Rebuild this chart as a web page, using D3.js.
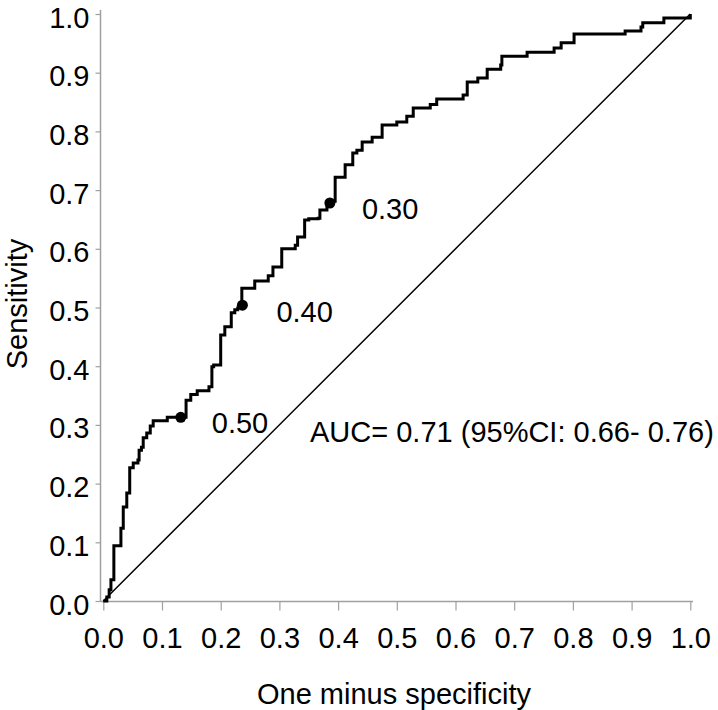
<!DOCTYPE html>
<html>
<head>
<meta charset="utf-8">
<script src="https://cdn.jsdelivr.net/npm/d3@7"></script>
<style>
  html, body { margin: 0; padding: 0; background: #fff; }
  svg { display: block; }
  text { font-family: "Liberation Sans", Arial, sans-serif; fill: #000; }
</style>
</head>
<body>
<div id="chart"></div>
<script>
// ROC step curve: at each fpr, sensitivity rises to tpr
const fpr = [0.000, 0.006, 0.010, 0.013, 0.018, 0.030, 0.034, 0.040, 0.045, 0.051,
             0.059, 0.061, 0.065, 0.068, 0.074, 0.080, 0.085, 0.109, 0.141, 0.149,
             0.160, 0.180, 0.185, 0.188, 0.200, 0.207, 0.218, 0.224, 0.229, 0.236,
             0.258, 0.281, 0.289, 0.304, 0.327, 0.331, 0.343, 0.350, 0.366, 0.369,
             0.381, 0.388, 0.395, 0.412, 0.425, 0.432, 0.441, 0.458, 0.475, 0.500,
             0.517, 0.528, 0.557, 0.568, 0.613, 0.620, 0.638, 0.654, 0.677, 0.679,
             0.722, 0.768, 0.780, 0.802, 0.889, 0.916, 0.919, 0.955, 1.000];
const tpr = [0.000, 0.007, 0.019, 0.036, 0.094, 0.124, 0.160, 0.184, 0.227, 0.235,
             0.240, 0.257, 0.262, 0.278, 0.286, 0.298, 0.307, 0.313, 0.342, 0.352,
             0.358, 0.365, 0.399, 0.402, 0.453, 0.467, 0.491, 0.496, 0.499, 0.533,
             0.545, 0.554, 0.569, 0.600, 0.606, 0.620, 0.649, 0.651, 0.652, 0.666,
             0.673, 0.681, 0.722, 0.743, 0.763, 0.768, 0.782, 0.790, 0.811, 0.816,
             0.826, 0.840, 0.846, 0.855, 0.862, 0.884, 0.891, 0.906, 0.913, 0.928,
             0.935, 0.942, 0.951, 0.966, 0.971, 0.978, 0.985, 0.993, 1.000];

// Highlighted cut-off points
const cutLabels = ["0.50", "0.40", "0.30"];
const cutFpr = [0.132, 0.237, 0.386];
const cutTpr = [0.313, 0.504, 0.678];

const xTicks = [0.0, 0.1, 0.2, 0.3, 0.4, 0.5, 0.6, 0.7, 0.8, 0.9, 1.0];
const yTicks = [0.0, 0.1, 0.2, 0.3, 0.4, 0.5, 0.6, 0.7, 0.8, 0.9, 1.0];

const xTitle = "One minus specificity";
const yTitle = "Sensitivity";
const aucText = "AUC= 0.71 (95%CI: 0.66- 0.76)";

const W = 718, H = 710;
const FS = 29;
const axisColor = "#a0a0a0";

const svg = d3.select("#chart").append("svg")
  .attr("width", W).attr("height", H);

const x = d3.scaleLinear().domain([0, 1]).range([103.3, 690.3]);
const y = d3.scaleLinear().domain([0, 1]).range([601, 14]);

// axis lines
svg.append("line").attr("x1", 100.5).attr("x2", 100.5).attr("y1", 10).attr("y2", 601.5)
  .attr("stroke", axisColor).attr("stroke-width", 1.5);
svg.append("line").attr("x1", 100.5).attr("x2", 693).attr("y1", 601.5).attr("y2", 601.5)
  .attr("stroke", axisColor).attr("stroke-width", 1.5);

// y axis
const gy = svg.append("g").attr("transform", "translate(100.5,0)")
  .call(d3.axisLeft(y).tickValues(yTicks).tickFormat(d3.format(".1f"))
    .tickSize(5).tickSizeOuter(0).tickPadding(6));
gy.select(".domain").remove();
gy.selectAll(".tick line").attr("stroke", axisColor).attr("stroke-width", 1.2);
gy.selectAll(".tick text").attr("font-size", FS).attr("font-family", null)
  .attr("dy", "0.45em").attr("fill", "#000");

// x axis
const gx = svg.append("g").attr("transform", "translate(0,601.5)")
  .call(d3.axisBottom(x).tickValues(xTicks).tickFormat(d3.format(".1f"))
    .tickSize(9).tickSizeOuter(0).tickPadding(17));
gx.select(".domain").remove();
gx.selectAll(".tick line").attr("stroke", axisColor).attr("stroke-width", 1.2);
gx.selectAll(".tick text").attr("font-size", FS).attr("font-family", null).attr("fill", "#000");

// reference diagonal
svg.append("line")
  .attr("x1", x(0)).attr("y1", y(0)).attr("x2", x(1)).attr("y2", y(1))
  .attr("stroke", "#000").attr("stroke-width", 1.5);

// ROC curve
const pts = fpr.map((f, i) => [f, tpr[i]]);
svg.append("path")
  .datum(pts)
  .attr("fill", "none").attr("stroke", "#000").attr("stroke-width", 3)
  .attr("stroke-linejoin", "miter")
  .attr("d", d3.line().x(d => x(d[0])).y(d => y(d[1])).curve(d3.curveStepAfter));

// cut-off dots
svg.selectAll("circle.cut").data(cutFpr).enter().append("circle")
  .attr("class", "cut")
  .attr("cx", (d) => x(d)).attr("cy", (d, i) => y(cutTpr[i])).attr("r", 5.5)
  .attr("fill", "#000");

// cut-off labels (offset right/below of each point)
const labelDx = [31, 34, 32];
const labelDy = [16, 17, 16];
svg.selectAll("text.cutlab").data(cutLabels).enter().append("text")
  .attr("class", "cutlab")
  .attr("x", (d, i) => x(cutFpr[i]) + labelDx[i])
  .attr("y", (d, i) => y(cutTpr[i]) + labelDy[i])
  .attr("font-size", FS)
  .text(d => d);

// AUC text
svg.append("text").attr("x", 310).attr("y", 442).attr("font-size", FS).text(aucText);

// titles
svg.append("text").attr("x", 394).attr("y", 704).attr("text-anchor", "middle")
  .attr("font-size", FS).text(xTitle);
svg.append("text").attr("transform", "translate(26.5,304) rotate(-90)")
  .attr("text-anchor", "middle").attr("font-size", FS).text(yTitle);
</script>
</body>
</html>
